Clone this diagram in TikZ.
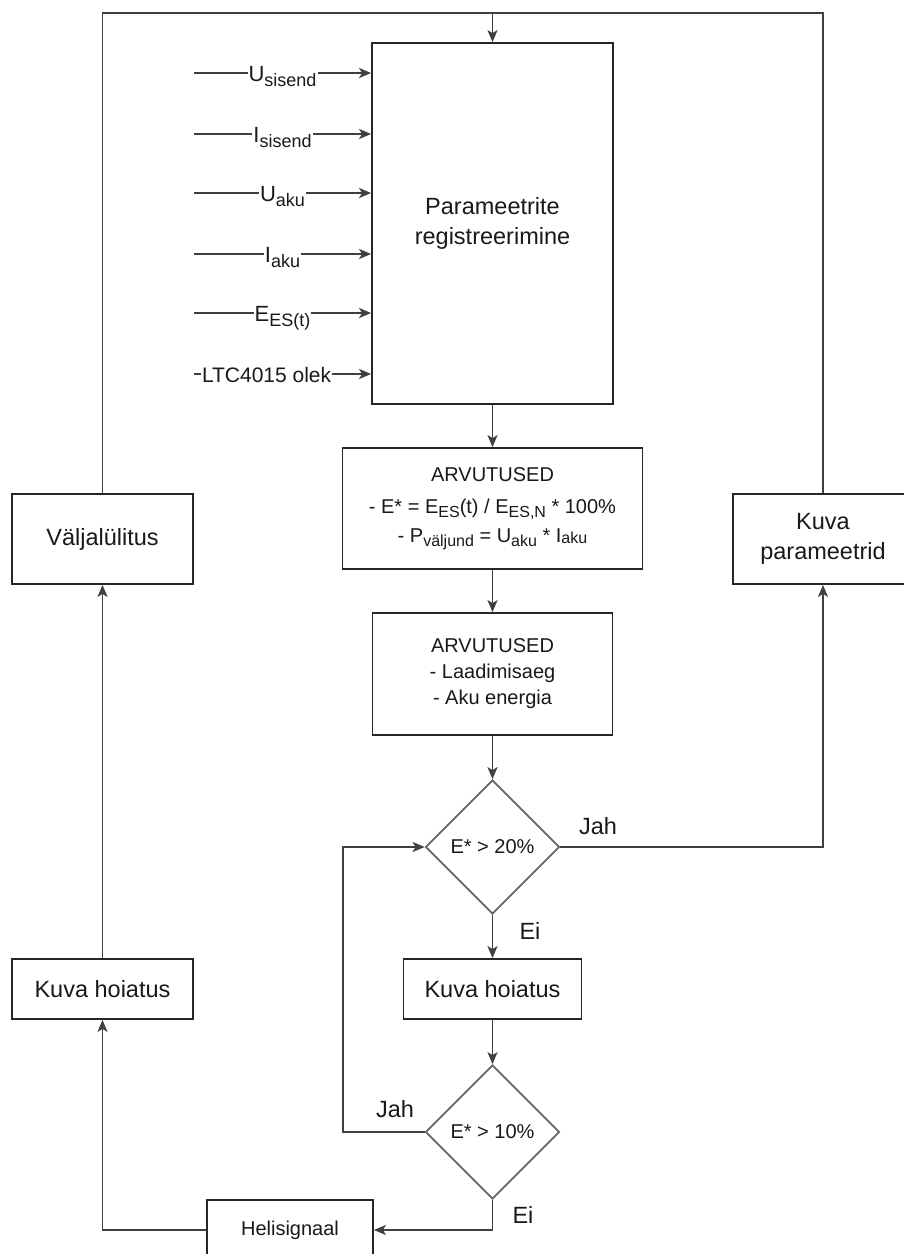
\documentclass[tikz,border=0pt]{standalone}
\usepackage{fontspec}
\setmainfont{Liberation Sans}
\usetikzlibrary{arrows.meta,shapes.geometric}

% lowered, smaller index text (subscripts in signal names)
\newcommand\lbsub[3]{\raisebox{-#2pt}{\fontsize{#1pt}{#1pt}\selectfont #3}}
\newcommand\insub[1]{\lbsub{18}{5}{#1}}
\newcommand\bxsub[1]{\lbsub{16}{4}{#1}}

\begin{document}
\begin{tikzpicture}[x=1pt,y=-1pt,
  box/.style={draw=black!85, line width=1.8pt, fill=white, align=center,
    inner sep=0pt, text=black!90, font=\fontsize{23.5pt}{30pt}\selectfont},
  cond/.style={diamond, draw=black!60, line width=1.8pt, fill=white,
    minimum width=134pt, minimum height=134pt, inner sep=0pt,
    text=black!90, font=\fontsize{20pt}{24pt}\selectfont},
  conn/.style={draw=black!75, line width=1.7pt},
  arr/.style={conn, -{Stealth[length=12pt,width=10pt,inset=3pt]}},
  lbl/.style={text=black!90, font=\fontsize{23.5pt}{28pt}\selectfont, inner sep=0pt},
  inlbl/.style={fill=white, inner sep=1pt, text=black!90,
    font=\fontsize{22pt}{26pt}\selectfont, anchor=base, yshift=-8pt}]

\clip (0,0) rectangle (904,1254);
\fill[white] (0,0) rectangle (904,1254);

% process boxes
\node[box, minimum width=241pt, minimum height=361pt] (reg) at (492.5,223.5)
  {Parameetrite\\registreerimine};
\node[box, font=\fontsize{20pt}{28.5pt}\selectfont, minimum width=300pt, minimum height=121pt]
  (calc1) at (492.5,508.5)
  {\raisebox{4pt}{ARVUTUSED}\\- E* = E\bxsub{ES}(t) / E\bxsub{ES,N} * 100\%\\- P\bxsub{väljund} = U\bxsub{aku} * I\lbsub{16}{1}{aku}};
\node[box, font=\fontsize{20pt}{26pt}\selectfont, minimum width=240pt, minimum height=122pt]
  (calc2) at (492.5,674) {ARVUTUSED\\- Laadimisaeg\\- Aku energia};
\node[cond] (d1) at (492.5,847) {E* > 20\%};
\node[box, minimum width=178pt, minimum height=60pt] (warnm) at (492.5,989) {Kuva hoiatus};
\node[cond] (d2) at (492.5,1132) {E* > 10\%};
\node[box, font=\fontsize{20pt}{24pt}\selectfont, minimum width=166pt, minimum height=60pt]
  (beep) at (290,1230) {Helisignaal};
\node[box, minimum width=181pt, minimum height=90pt] (off) at (102.5,539) {Väljalülitus};
\node[box, minimum width=181pt, minimum height=60pt] (warnl) at (102.5,989) {Kuva hoiatus};
\node[box, minimum width=180pt, minimum height=90pt] (show) at (823,539) {Kuva\\parameetrid};

% branch labels
\node[lbl] (jah1) at (598,826) {Jah};
\node[lbl] (ei1) at (530,931) {Ei};
\node[lbl] (jah2) at (395,1109) {Jah};
\node[lbl] (ei2) at (523,1215) {Ei};

% measured inputs
\coordinate (in1) at (194,73);
\coordinate (in2) at (194,134);
\coordinate (in3) at (194,193);
\coordinate (in4) at (194,254);
\coordinate (in5) at (194,313);
\coordinate (in6) at (194,374);
\draw[arr] (in1) -- node[inlbl] {U\insub{sisend}} (reg.west |- in1);
\draw[arr] (in2) -- node[inlbl] {I\insub{sisend}} (reg.west |- in2);
\draw[arr] (in3) -- node[inlbl] {U\insub{aku}} (reg.west |- in3);
\draw[arr] (in4) -- node[inlbl] {I\insub{aku}} (reg.west |- in4);
\draw[arr] (in5) -- node[inlbl] {E\insub{ES(t)}} (reg.west |- in5);
\draw[arr] (in6) -- node[inlbl, pos=0.41, font=\fontsize{21pt}{25pt}\selectfont] {LTC4015 olek} (reg.west |- in6);

% main flow
\coordinate (top) at (492.5,13);
\draw[conn] (show.north) |- (top);
\draw[conn] (off.north) |- (top);
\draw[arr] (top) -- (reg.north);
\draw[arr] (reg.south) -- (calc1.north);
\draw[arr] (calc1.south) -- (calc2.north);
\draw[arr] (calc2.south) -- (d1.north);
\draw[arr] (d1.east) -| (show.south);
\draw[arr] (d1.south) -- (warnm.north);
\draw[arr] (warnm.south) -- (d2.north);
\coordinate (loop) at (343,1132);
\draw[arr] (d2.west) -- (loop) |- (d1.west);
\draw[arr] (d2.south) |- (beep.east);
\draw[arr] (beep.west) -| (warnl.south);
\draw[arr] (warnl.north) -- (off.south);

\end{tikzpicture}
\end{document}
